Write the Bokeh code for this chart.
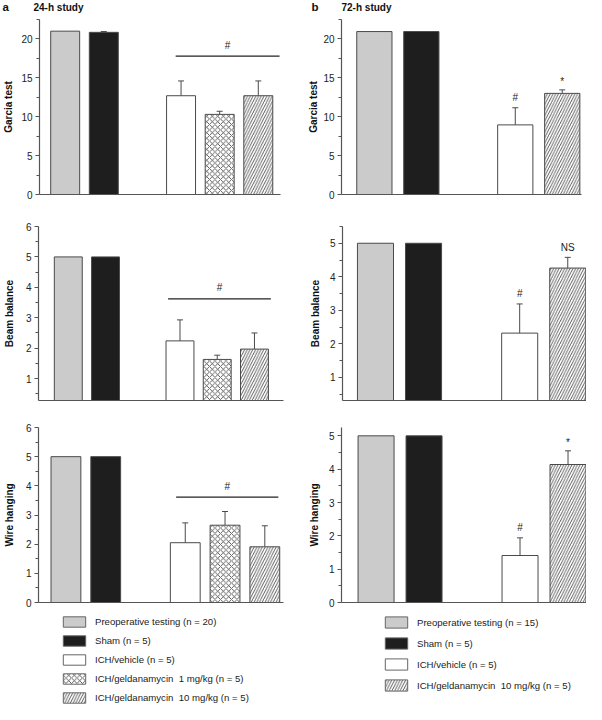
from bokeh.plotting import figure
from bokeh.layouts import column, row
from bokeh.models import (ColumnDataSource, FixedTicker, Legend, LegendItem,
                          Whisker, TeeHead, Range1d)
from bokeh.core.properties import value
from bokeh.embed import file_html
from bokeh.resources import INLINE

FONT = "Liberation Sans"

# ---------------- data ----------------
groups_24h = ["Preoperative testing (n = 20)", "Sham (n = 5)", "ICH/vehicle (n = 5)",
              "ICH/geldanamycin  1 mg/kg (n = 5)", "ICH/geldanamycin  10 mg/kg (n = 5)"]
groups_72h = ["Preoperative testing (n = 15)", "Sham (n = 5)", "ICH/vehicle (n = 5)",
              "ICH/geldanamycin  10 mg/kg (n = 5)"]
pos_24h = [0, 1, 3, 4, 5]
pos_72h = [0, 1, 3, 4]

garcia_24h = [21.0, 20.85, 12.7, 10.3, 12.7]
garcia_24h_err = [0.0, 0.1, 1.9, 0.4, 1.9]
beam_24h = [5.0, 5.0, 2.24, 1.63, 1.97]
beam_24h_err = [0.0, 0.0, 0.69, 0.14, 0.53]
wire_24h = [5.0, 5.0, 2.05, 2.65, 1.91]
wire_24h_err = [0.0, 0.0, 0.68, 0.47, 0.72]

garcia_72h = [20.95, 20.95, 8.95, 13.0]
garcia_72h_err = [0.0, 0.0, 2.2, 0.45]
beam_72h = [5.0, 5.0, 2.32, 4.26]
beam_72h_err = [0.0, 0.0, 0.87, 0.32]
wire_72h = [5.0, 5.0, 1.41, 4.14]
wire_72h_err = [0.0, 0.0, 0.53, 0.41]

marks_72h_garcia = ["", "", "#", "*"]
marks_72h_beam = ["", "", "#", "NS"]
marks_72h_wire = ["", "", "#", "*"]

# significance bars over the three ICH groups (24-h study): x start, x end, height
sig_garcia_24h = [2.86, 5.55, 17.8]
sig_beam_24h = [2.68, 5.44, 3.62]
sig_wire_24h = [2.77, 5.34, 3.61]

panel_letters = ["a", "b"]
study_titles = ["24-h study", "72-h study"]

# ---------------- styles ----------------
fill_24h = ["#cbcbcb", "#1e1e1e", "white", "white", "white"]
hatch_24h = [" ", " ", " ", "x", "/"]
fill_72h = ["#cbcbcb", "#1e1e1e", "white", "white"]
hatch_72h = [" ", " ", " ", "/"]
EDGE = "#4a4a4a"
AX = "#555555"


def panel(w, h, fr, xr, yr, majors, minors, pos, vals, errs, fills, hatches,
          ylabel, lab_standoff, marks=None, sig=None):
    l, r, t, b = fr
    p = figure(width=w, height=h, x_range=Range1d(*xr), y_range=Range1d(*yr),
               output_backend="svg", toolbar_location=None,
               min_border_left=l, min_border_right=w - r, min_border_top=t,
               min_border_bottom=h - b)
    p.outline_line_color = None
    p.grid.visible = False
    p.background_fill_color = "white"
    p.border_fill_color = "white"

    xa = p.xaxis[0]
    xa.ticker = FixedTicker(ticks=[])
    xa.major_tick_out = 0
    xa.major_tick_in = 0
    xa.minor_tick_out = 0
    xa.minor_tick_in = 0
    xa.major_label_standoff = 0
    xa.major_label_text_font_size = "0px"
    xa.axis_line_color = AX
    xa.axis_line_width = 1.2

    ya = p.yaxis[0]
    ya.ticker = FixedTicker(ticks=majors, minor_ticks=minors)
    ya.major_tick_in = 0
    ya.major_tick_out = 4
    ya.minor_tick_in = 0
    ya.minor_tick_out = 3
    ya.axis_line_color = AX
    ya.axis_line_width = 1.2
    ya.major_tick_line_color = AX
    ya.minor_tick_line_color = AX
    ya.major_label_standoff = 3
    ya.major_label_text_font = FONT
    ya.major_label_text_font_size = "10px"
    ya.major_label_text_color = "#222222"
    ya.axis_label = ylabel
    ya.axis_label_standoff = lab_standoff
    ya.axis_label_text_font = FONT
    ya.axis_label_text_font_size = "10px"
    ya.axis_label_text_font_style = "bold"
    ya.axis_label_text_color = "#111111"

    src = ColumnDataSource(dict(x=pos, top=vals, fill=fills, hatch=hatches))
    p.vbar(x="x", top="top", bottom=0, width=0.75, source=src, fill_color="fill",
           line_color=EDGE, line_width=1, hatch_pattern="hatch", hatch_color="#333333",
           hatch_scale=5.5, hatch_weight=0.8)

    ex = [x for x, e in zip(pos, errs) if e > 0]
    elo = [v for v, e in zip(vals, errs) if e > 0]
    ehi = [v + e for v, e in zip(vals, errs) if e > 0]
    esrc = ColumnDataSource(dict(x=ex, lo=elo, hi=ehi))
    p.add_layout(Whisker(source=esrc, base="x", lower="lo", upper="hi", dimension="height",
                         line_color=EDGE, line_width=1, lower_head=None,
                         upper_head=TeeHead(size=6, line_color=EDGE, line_width=1)))

    if marks is not None:
        mx = [x for x, m in zip(pos, marks) if m]
        my = [v + e for v, e, m in zip(vals, errs, marks) if m]
        mt = [m for m in marks if m]
        off = [-8 if m == "*" else -10 for m in mt]
        p.text(x=mx, y=my, text=mt, y_offset=off, text_align="center", text_baseline="middle",
               text_font=value(FONT), text_font_size="10px", text_color="#222222")

    if sig is not None:
        x0, x1, yy = sig
        p.segment(x0=[x0], y0=[yy], x1=[x1], y1=[yy], line_color="#222222", line_width=1.3)
        p.text(x=[(x0 + x1) / 2], y=[yy], text=["#"], y_offset=-11, text_align="center",
               text_baseline="middle", text_font=value(FONT), text_font_size="10px",
               text_color="#222222")
    return p


# ---- title strip (panel letters and study names) ----
T = figure(width=586, height=14, x_range=Range1d(0, 586), y_range=Range1d(14, 0),
           x_axis_type=None, y_axis_type=None, output_backend="svg",
           toolbar_location=None, min_border=0)
T.outline_line_color = None
T.grid.visible = False
T.text(x=[2, 311], y=[6, 6], text=panel_letters, text_align="left", text_baseline="middle",
       text_font=value(FONT), text_font_size="11.5px", text_font_style="bold",
       text_color="#111111")
T.text(x=[33, 341], y=[6.7, 6.7], text=study_titles, text_align="left",
       text_baseline="middle", text_font=value(FONT), text_font_size="10px",
       text_font_style="bold", text_color="#111111")

g_maj = [0, 5, 10, 15, 20]
g_min = [2.5, 7.5, 12.5, 17.5, 22.5]

TL = panel(296, 198, (36, 280, 2, 180), (-0.665, 5.575), (0, 22.5), g_maj, g_min,
           pos_24h, garcia_24h, garcia_24h_err, fill_24h, hatch_24h, "Garcia test", 4,
           sig=sig_garcia_24h)
TR = panel(290, 198, (45, 285, 5, 180), (-0.70, 4.41), (0, 22.5), g_maj, g_min,
           pos_72h, garcia_72h, garcia_72h_err, fill_72h, hatch_72h, "Garcia test", 1,
           marks=marks_72h_garcia)

ML = panel(296, 200, (33, 283, 10, 189), (-0.80, 5.78), (0.28, 6), [1, 2, 3, 4, 5, 6],
           [0.5, 1.5, 2.5, 3.5, 4.5, 5.5], pos_24h, beam_24h, beam_24h_err, fill_24h,
           hatch_24h, "Beam balance", 8, sig=sig_beam_24h)
MR = panel(290, 200, (46, 290, 14, 188), (-0.686, 4.39), (0.31, 5.5), [1, 2, 3, 4, 5],
           [0.5, 1.5, 2.5, 3.5, 4.5, 5.5], pos_72h, beam_72h, beam_72h_err, fill_72h,
           hatch_72h, "Beam balance", 6, marks=marks_72h_beam)

BL = panel(296, 200, (33, 283, 12, 190), (-0.69, 5.47), (0, 6), [0, 1, 2, 3, 4, 5, 6],
           [0.5, 1.5, 2.5, 3.5, 4.5, 5.5], pos_24h, wire_24h, wire_24h_err, fill_24h,
           hatch_24h, "Wire hanging", 8, sig=sig_wire_24h)
BR = panel(290, 200, (45, 290, 15, 190), (-0.72, 4.385), (0, 5.25), [0, 1, 2, 3, 4, 5],
           [0.5, 1.5, 2.5, 3.5, 4.5], pos_72h, wire_72h, wire_72h_err, fill_72h,
           hatch_72h, "Wire hanging", 6, marks=marks_72h_wire)


def legend_fig(w, h, groups, fills, hatches, loc, gh, spacing):
    p = figure(width=w, height=h, x_range=Range1d(0, 1), y_range=Range1d(0, 1),
               x_axis_type=None, y_axis_type=None, output_backend="svg",
               toolbar_location=None, min_border=0)
    p.outline_line_color = None
    p.grid.visible = False
    n = len(groups)
    src = ColumnDataSource(dict(x=[10] * n, top=[0.5] * n, fill=fills, hatch=hatches))
    r = p.vbar(x="x", top="top", bottom=0, width=0.5, source=src, fill_color="fill",
               line_color="#666666", line_width=1, hatch_pattern="hatch",
               hatch_color="#333333", hatch_scale=5.5, hatch_weight=0.8)
    items = [LegendItem(label=g, renderers=[r], index=i) for i, g in enumerate(groups)]
    leg = Legend(items=items, location=loc, glyph_width=28, glyph_height=gh,
                 label_height=gh, label_width=20, spacing=spacing, padding=0, margin=0,
                 label_standoff=7, border_line_color=None, background_fill_alpha=0,
                 label_text_font=FONT, label_text_font_size="9.6px",
                 label_text_color="#222222")
    p.add_layout(leg)
    return p


LL = legend_fig(296, 92, groups_24h, fill_24h, hatch_24h, (60, 0), 13, 6)
LR = legend_fig(290, 92, groups_72h, fill_72h, hatch_72h, (86, 12), 14, 7)

layout = column(T, row(TL, TR), row(ML, MR), row(BL, BR), row(LL, LR))
open("out.html", "w").write(file_html(layout, INLINE))
